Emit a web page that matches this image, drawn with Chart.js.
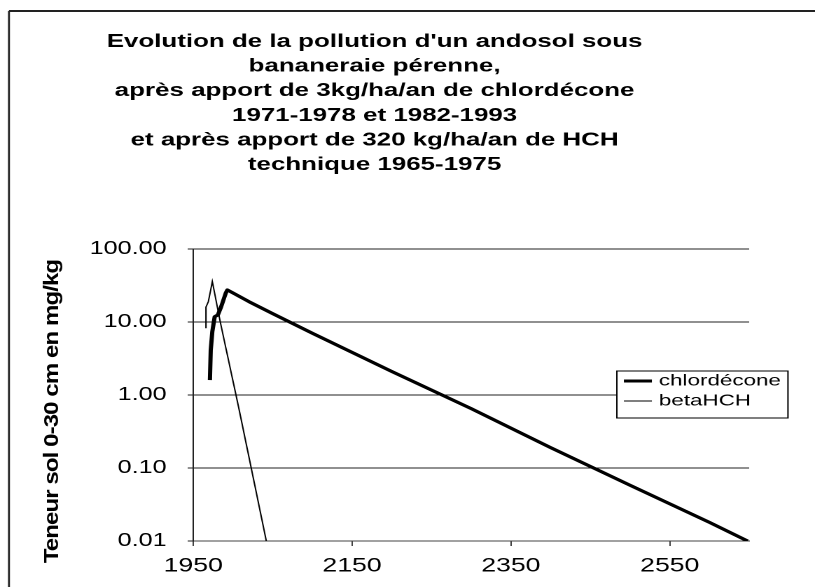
<!DOCTYPE html>
<html>
<head>
<meta charset="utf-8">
<script src="https://cdn.jsdelivr.net/npm/chart.js@4/dist/chart.umd.min.js"></script>
<style>
  html, body { margin: 0; padding: 0; background: #fff; overflow: hidden; }
  /* the original picture is stretched sideways: draw the chart narrow, then widen it */
  #wrap { width: 582px; height: 587px; transform: scaleX(1.4003); transform-origin: 0 0; }
</style>
</head>
<body>
<div id="wrap"><canvas id="pollutionChart"></canvas></div>

<script>
    const titleLines = [
        "Evolution de la pollution d'un andosol sous",
        'bananeraie pérenne,',
        'après apport de 3kg/ha/an de chlordécone',
        '1971-1978 et 1982-1993',
        'et après apport de 320 kg/ha/an de HCH',
        'technique 1965-1975'
    ];
    const yTitle = 'Teneur sol 0-30 cm en mg/kg';
    const seriesNames = ['chlordécone', 'betaHCH'];

    // values (mg/kg, log scale)
    const chlordeconeYears  = [1971, 1972, 1974, 1977, 1981, 1985, 1988, 1991, 1993, 2000, 2020, 2050, 2100, 2200, 2300, 2400, 2500, 2600, 2648];
    const chlordeconeValues = [1.6,  4.1,  7.4,  11.8, 12.5, 16,   20,   25,   27.5, 25,   19,   13,   7.0,  2.1,  0.65, 0.19, 0.058, 0.018, 0.01];
    const hchYears  = [1966, 1966, 1969, 1972, 1974, 1977, 1984, 2007, 2023, 2042];
    const hchValues = [8.2,  16,   19,   27.6, 35.7, 24.5, 10,   0.69, 0.1,  0.01];

    const xTicks = [1950, 2150, 2350, 2550];
    const yTicks = [0.01, 0.1, 1, 10, 100];

    function points(xs, ys) {
        return xs.map((x, i) => ({ x: x, y: ys[i] }));
    }

    Chart.defaults.font.family = '"Liberation Sans", Arial, sans-serif';
    Chart.defaults.color = '#000';

    // white background and the outer frame (top and left edges only show)
    const framePlugin = {
        id: 'frame',
        beforeDraw(chart) {
            const ctx = chart.ctx;
            ctx.save();
            ctx.fillStyle = '#fff';
            ctx.fillRect(0, 0, chart.width, chart.height);
            ctx.strokeStyle = '#222';
            ctx.lineWidth = 2;
            ctx.beginPath();
            ctx.moveTo(6.4, 11);
            ctx.lineTo(chart.width, 11);
            ctx.stroke();
            ctx.lineWidth = 1.4;
            ctx.beginPath();
            ctx.moveTo(6.4, 11);
            ctx.lineTo(6.4, chart.height);
            ctx.stroke();
            ctx.restore();
        }
    };

    // vertical axis title, squeezed across like in the original
    const yTitlePlugin = {
        id: 'yTitle',
        afterDraw(chart) {
            const ctx = chart.ctx;
            ctx.save();
            ctx.translate(37.4, 411.5);
            ctx.rotate(-Math.PI / 2);
            ctx.scale(1, 0.62);
            ctx.font = 'bold 24px "Liberation Sans", Arial, sans-serif';
            ctx.letterSpacing = '-0.9px';
            ctx.fillStyle = '#000';
            ctx.textAlign = 'center';
            ctx.textBaseline = 'middle';
            ctx.fillText(yTitle, 0, 0);
            ctx.restore();
        }
    };

    // boxed legend sitting over the right side of the plot
    const boxLegendPlugin = {
        id: 'boxLegend',
        afterDraw(chart) {
            const ctx = chart.ctx;
            const sets = chart.data.datasets;
            ctx.save();
            ctx.font = '16px "Liberation Sans", Arial, sans-serif';
            const tw = Math.max(...sets.map(d => ctx.measureText(d.label).width));
            const right = 562.7, top = 371, bottom = 418;
            const pad = 5, sample = 20, gap = 5;
            const left = right - (pad + sample + gap + tw + pad);
            ctx.fillStyle = '#fff';
            ctx.fillRect(left, top, right - left, bottom - top);
            ctx.strokeStyle = '#000';
            ctx.lineWidth = 1;
            ctx.strokeRect(left, top, right - left, bottom - top);
            const rows = [381, 401];
            sets.forEach((d, i) => {
                ctx.strokeStyle = d.borderColor;
                ctx.lineWidth = d.borderWidth;
                ctx.beginPath();
                ctx.moveTo(left + pad, rows[i]);
                ctx.lineTo(left + pad + sample, rows[i]);
                ctx.stroke();
                ctx.fillStyle = '#000';
                ctx.textAlign = 'left';
                ctx.textBaseline = 'middle';
                ctx.fillText(d.label, left + pad + sample + gap, rows[i]);
            });
            ctx.restore();
        }
    };

    const chart = new Chart(document.getElementById('pollutionChart').getContext('2d'), {
        type: 'line',
        data: {
            datasets: [{
                label: seriesNames[0],
                data: points(chlordeconeYears, chlordeconeValues),
                borderColor: '#000',
                borderWidth: 3,
                borderJoinStyle: 'round',
                pointRadius: 0,
                tension: 0,
                fill: false
            }, {
                label: seriesNames[1],
                data: points(hchYears, hchValues),
                borderColor: '#000',
                borderWidth: 1,
                pointRadius: 0,
                tension: 0,
                fill: false
            }]
        },
        options: {
            responsive: true,
            maintainAspectRatio: false,
            devicePixelRatio: 2,
            animation: false,
            layout: { padding: { left: 0, right: 47, top: 0, bottom: 0 } },
            plugins: {
                legend: { display: false },
                tooltip: { enabled: false },
                title: {
                    display: true,
                    text: titleLines,
                    color: '#000',
                    font: { size: 18.5, weight: 'bold', lineHeight: 1.333 },
                    padding: { top: 29.4, bottom: 71.6 }
                }
            },
            scales: {
                x: {
                    type: 'linear',
                    min: 1950,
                    max: 2650,
                    afterBuildTicks: s => { s.ticks = xTicks.map(v => ({ value: v })); },
                    afterFit: s => { s.height = 46; },
                    grid: { drawOnChartArea: false, color: '#444', tickLength: 5 },
                    border: { color: '#444' },
                    ticks: { font: { size: 19 }, padding: 9, maxRotation: 0, callback: v => String(v) }
                },
                y: {
                    type: 'logarithmic',
                    min: 0.01,
                    max: 100,
                    afterBuildTicks: s => { s.ticks = yTicks.map(v => ({ value: v })); },
                    afterFit: s => { s.width = 138; },
                    grid: { color: '#222', tickLength: 4 },
                    border: { color: '#222' },
                    ticks: { font: { size: 18 }, padding: 15, callback: v => Number(v).toFixed(2) }
                }
            }
        },
        plugins: [framePlugin, yTitlePlugin, boxLegendPlugin]
    });
</script>
</body>
</html>
